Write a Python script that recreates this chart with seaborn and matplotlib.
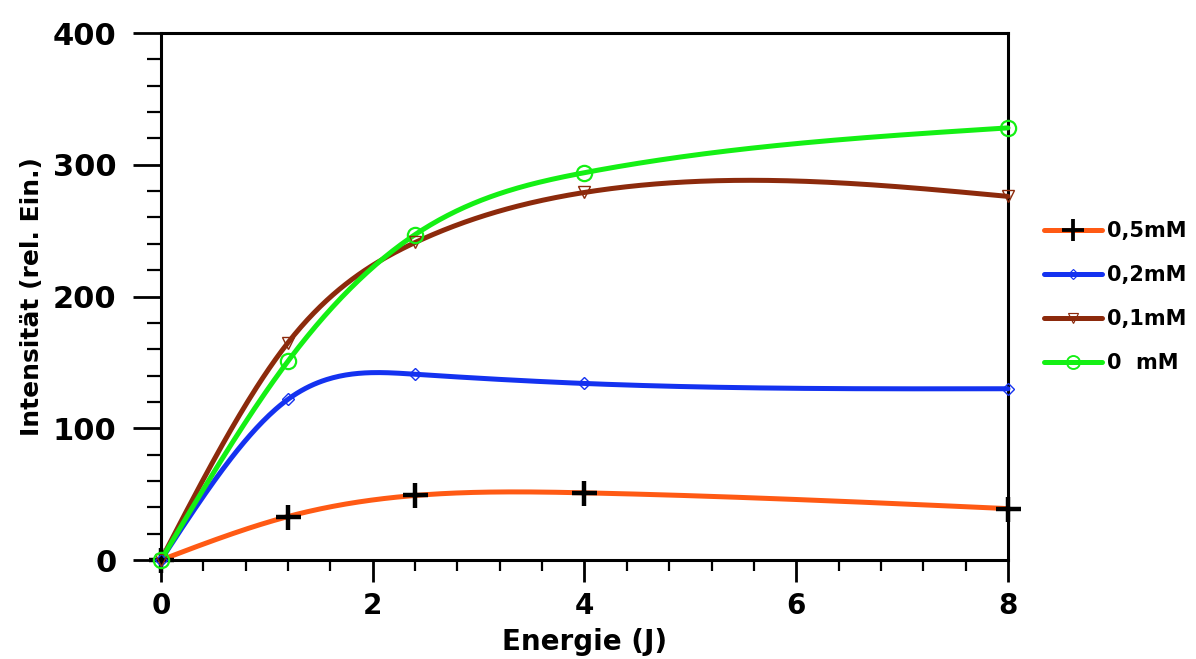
import numpy as np
import pandas as pd
import matplotlib
matplotlib.use("Agg")
import matplotlib.pyplot as plt
import seaborn as sns
from matplotlib.ticker import MultipleLocator
from matplotlib.lines import Line2D

# ---- data ----
energie = [0, 1.2, 2.4, 4, 8]
series_labels = ["0,5mM", "0,2mM", "0,1mM", "0  mM"]
int_05 = [0, 33, 49, 51, 39]
int_02 = [0, 122, 141, 134, 130]
int_01 = [0, 165, 241, 279, 276]
int_00 = [0, 151, 247, 294, 328]
x_ticks = [0, 2, 4, 6, 8]
y_ticks = [0, 100, 200, 300, 400]

line_colors = ["#FF5A14", "#1432F0", "#8C2A0C", "#14F014"]
marker_styles = ["+", "D", "v", "o"]
marker_colors = ["black", "#1432F0", "#8C2A0C", "#14F014"]
marker_sizes = [18, 6.5, 9, 11]
marker_mew = [3.2, 1.0, 1.0, 1.6]


def natural_spline(x, y, xs):
    x = np.asarray(x, float); y = np.asarray(y, float)
    n = len(x)
    h = np.diff(x)
    A = np.zeros((n, n)); b = np.zeros(n)
    A[0, 0] = 1; A[-1, -1] = 1
    for i in range(1, n - 1):
        A[i, i - 1] = h[i - 1]
        A[i, i] = 2 * (h[i - 1] + h[i])
        A[i, i + 1] = h[i]
        b[i] = 6 * ((y[i + 1] - y[i]) / h[i] - (y[i] - y[i - 1]) / h[i - 1])
    M = np.linalg.solve(A, b)
    out = np.empty_like(xs)
    for k, t in enumerate(xs):
        i = min(max(np.searchsorted(x, t) - 1, 0), n - 2)
        a = x[i + 1] - t; c = t - x[i]
        out[k] = (M[i] * a ** 3 + M[i + 1] * c ** 3) / (6 * h[i]) + \
                 (y[i] / h[i] - M[i] * h[i] / 6) * a + \
                 (y[i + 1] / h[i] - M[i + 1] * h[i] / 6) * c
    return out


sns.set_style("white")
plt.rcParams["font.family"] = ["DejaVu Sans"]
plt.rcParams["font.weight"] = "bold"
plt.rcParams["text.color"] = "black"
plt.rcParams["axes.labelcolor"] = "black"
plt.rcParams["xtick.color"] = "black"
plt.rcParams["ytick.color"] = "black"

fig = plt.figure(figsize=(11.96, 6.59), dpi=100)
ax = fig.add_axes([0.1346, 0.1502, 0.7082, 0.7997])

all_series = [int_05, int_02, int_01, int_00]
xs = np.linspace(0, 8, 400)
handles = []
for i, ys in enumerate(all_series):
    curve = pd.DataFrame({"x": xs, "y": natural_spline(energie, ys, xs)})
    sns.lineplot(data=curve, x="x", y="y", ax=ax, color=line_colors[i],
                 linewidth=3.6, zorder=3 + i, clip_on=False)
    pts = pd.DataFrame({"x": energie, "y": ys})
    sns.lineplot(data=pts, x="x", y="y", ax=ax, linestyle="none",
                 marker=marker_styles[i], markersize=marker_sizes[i],
                 markeredgecolor=marker_colors[i], markerfacecolor="none",
                 markeredgewidth=marker_mew[i], color=marker_colors[i],
                 zorder=10 + i, clip_on=False)
    handles.append(Line2D([], [], color=line_colors[i], linewidth=3.6,
                          marker=marker_styles[i], markersize=marker_sizes[i] * 0.85,
                          markeredgecolor=marker_colors[i], markerfacecolor="none",
                          markeredgewidth=marker_mew[i] * 0.85))

ax.set_xlim(0, 8)
ax.set_ylim(0, 400)
ax.set_xticks(x_ticks)
ax.set_yticks(y_ticks)
ax.xaxis.set_minor_locator(MultipleLocator(0.4))
ax.yaxis.set_minor_locator(MultipleLocator(20))
ax.tick_params(axis="x", which="major", direction="out", length=16, width=2,
               labelsize=20, pad=7, bottom=True, colors="black")
ax.tick_params(axis="x", which="minor", direction="out", length=8, width=1.6,
               bottom=True, colors="black")
ax.tick_params(axis="y", which="major", direction="out", length=20, width=2,
               labelsize=22, pad=12, left=True, colors="black")
ax.tick_params(axis="y", which="minor", direction="out", length=10, width=1.6,
               left=True, colors="black")
for lab in ax.get_xticklabels() + ax.get_yticklabels():
    lab.set_fontweight("bold")

for sp in ax.spines.values():
    sp.set_visible(True)
    sp.set_color("black")
    sp.set_linewidth(2.2)

ax.set_xlabel("Energie (J)", fontsize=20, fontweight="bold", labelpad=6,
              color="black")
ax.set_ylabel("Intensität (rel. Ein.)", fontsize=18, fontweight="bold",
              labelpad=6, color="black")

leg = fig.legend(handles, series_labels, loc="upper left",
                 bbox_to_anchor=(0.857, 0.693), frameon=False,
                 handlelength=2.8, handletextpad=0.25, labelspacing=1.15,
                 prop={"weight": "bold", "size": 15})
for t in leg.get_texts():
    t.set_color("black")

fig.savefig("out.png", dpi=100)
